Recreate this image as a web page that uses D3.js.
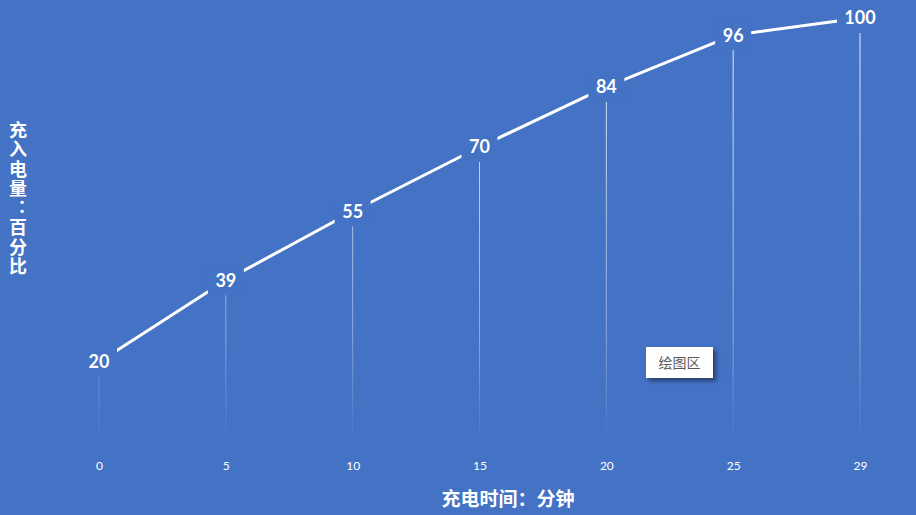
<!DOCTYPE html>
<html><head><meta charset="utf-8">
<script src="https://cdn.jsdelivr.net/npm/d3@7"></script>
<style>html,body{margin:0;padding:0;background:#4472C4;}svg{display:block;}</style>
</head><body>
<script>
const categories = ["0","5","10","15","20","25","29"];
const values = [20,39,55,70,84,96,100];
const xTitle = "充电时间：分钟";
const yTitle = "充入电量：百分比";
const tipText = "绘图区";

const W = 916, H = 515, bg = "#4472C4";
const svg = d3.select("body").append("svg").attr("width", W).attr("height", H);
svg.append("rect").attr("width", W).attr("height", H).attr("fill", bg);

const x = d3.scalePoint().domain(categories).range([99, 860]);
const y = d3.scaleLinear().domain([0, 100]).range([448, 18]);
const bottom = 432;

const defs = svg.append("defs");
const grad = defs.append("linearGradient").attr("id","fade")
  .attr("gradientUnits","userSpaceOnUse").attr("x1",0).attr("y1",y(100)).attr("x2",0).attr("y2",bottom);
grad.append("stop").attr("offset","0%").attr("stop-color","#fff").attr("stop-opacity",0.9);
grad.append("stop").attr("offset","75%").attr("stop-color","#fff").attr("stop-opacity",0.4);
grad.append("stop").attr("offset","100%").attr("stop-color","#fff").attr("stop-opacity",0.05);
const sh = defs.append("filter").attr("id","sh").attr("x","-20%").attr("y","-20%").attr("width","150%").attr("height","160%");
sh.append("feDropShadow").attr("dx",3).attr("dy",3).attr("stdDeviation",2).attr("flood-color","#000").attr("flood-opacity",0.45);

const data = categories.map((c,i)=>({c, v: values[i]}));

// drop lines
svg.selectAll("line.drop").data(data).enter().append("line")
  .attr("class","drop")
  .attr("x1", d=>x(d.c)).attr("x2", d=>x(d.c))
  .attr("y1", d=>y(d.v)).attr("y2", bottom)
  .attr("stroke","url(#fade)").attr("stroke-width",1);

// line
svg.append("path").datum(data)
  .attr("d", d3.line().x(d=>x(d.c)).y(d=>y(d.v)))
  .attr("fill","none").attr("stroke","#fff").attr("stroke-width",3);

// labels with bg rect
const lab = svg.selectAll("g.lab").data(data).enter().append("g").attr("class","lab")
  .attr("transform", d=>`translate(${x(d.c)},${y(d.v)})`);
lab.append("rect")
  .attr("x", d=> -(String(d.v).length*5+8)).attr("width", d=> String(d.v).length*10+16)
  .attr("y",-14).attr("height",29).attr("fill",bg);
lab.append("text").text(d=>d.v)
  .attr("text-anchor","middle").attr("dy","0.36em")
  .attr("font-family","Lato, 'Open Sans', sans-serif").attr("font-weight","bold")
  .attr("font-size",18).attr("fill","#fff");

// x axis tick labels
const axis = d3.axisBottom(x).tickSize(0).tickPadding(0);
const gx = svg.append("g").attr("transform","translate(0,461)").call(axis);
gx.select(".domain").remove();
gx.selectAll("text").attr("fill","#fff").attr("font-size",12)
  .attr("font-family","Lato, 'Open Sans', sans-serif");

// axis titles
svg.append("text").text(xTitle).attr("x",508).attr("y",506)
  .attr("text-anchor","middle").attr("fill","#fff").attr("font-size",19).attr("font-weight","bold")
  .attr("font-family","'Noto Sans CJK SC', sans-serif");
svg.append("text").text(yTitle)
  .attr("x",18).attr("y",121)
  .style("writing-mode","vertical-rl").style("text-orientation","upright")
  .attr("fill","#fff").attr("font-size",18).attr("font-weight","bold")
  .attr("letter-spacing",1.5)
  .attr("font-family","'Noto Sans CJK SC', sans-serif");

// tooltip box
const tip = svg.append("g").attr("transform","translate(646,347)");
tip.append("rect").attr("width",67).attr("height",31).attr("fill","#fff").attr("filter","url(#sh)");
tip.append("text").text(tipText).attr("x",33.5).attr("y",21).attr("text-anchor","middle")
  .attr("fill","#595959").attr("font-size",14).attr("font-family","'Noto Sans CJK SC', sans-serif");
</script>
</body></html>
